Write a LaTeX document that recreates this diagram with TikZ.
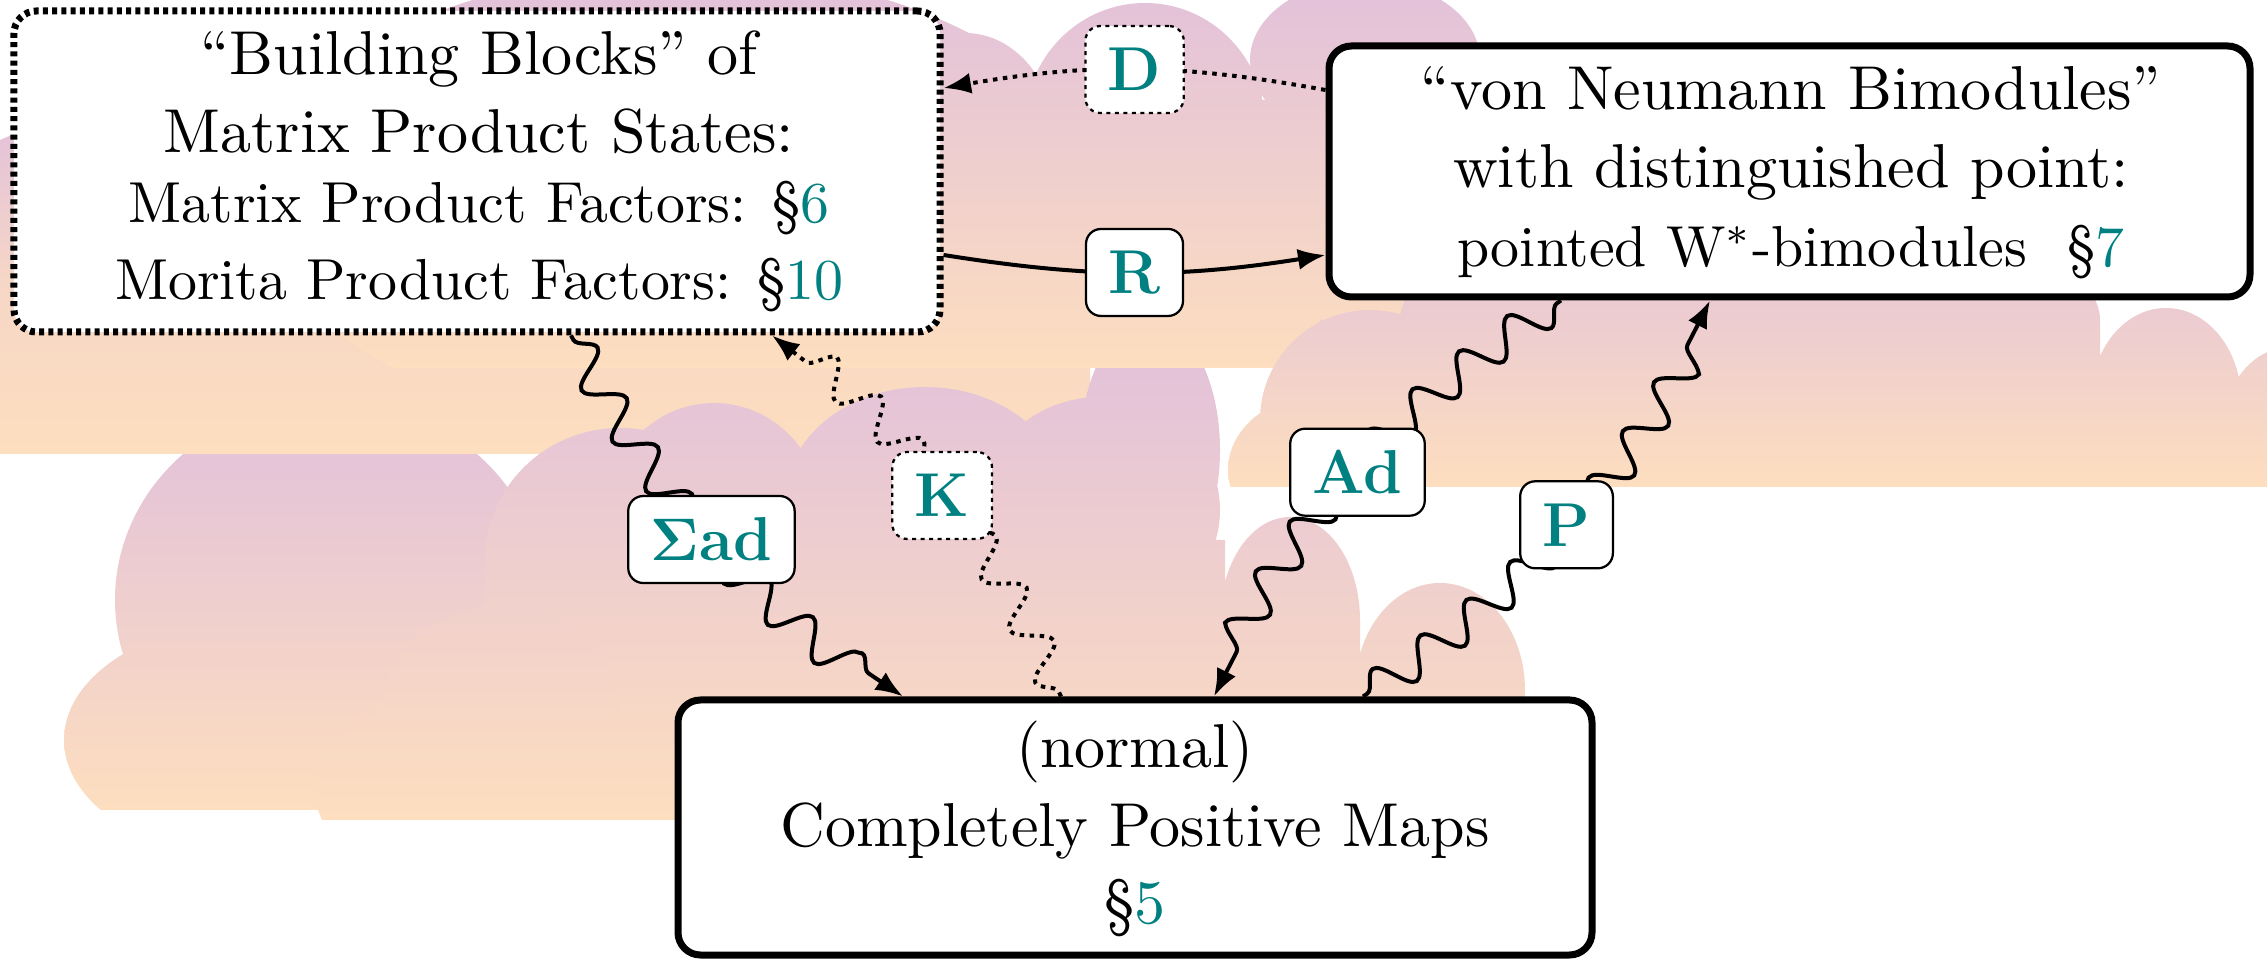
\documentclass[tikz,border=0pt]{standalone}
\usepackage{fontspec}
\usetikzlibrary{decorations.pathmorphing,arrows.meta,calc}
\definecolor{cloudtop}{RGB}{225,192,220}
\definecolor{cloudbot}{RGB}{253,222,190}
\newcommand\bsig{{\fontencoding{OT1}\fontfamily{cmr}\fontseries{bx}\fontshape{n}\selectfont\char6}}
\begin{document}
\begin{tikzpicture}[x=0.2pt,y=0.2pt,
  box/.style={draw, fill=white, rounded corners=4.5pt, line width=1.4pt, inner sep=0pt},
  dotbox/.style={dash pattern=on 1pt off 0.85pt},
  big/.style={font=\fontsize{10}{12}\selectfont, inner sep=0pt, scale=1.24, transform shape},
  small/.style={font=\fontsize{10}{12}\selectfont, inner sep=0pt, scale=1.157, transform shape},
  lbl/.style={draw, solid, fill=white, rounded corners=3pt, line width=0.45pt,
    minimum height=17.4pt, minimum width=18pt, inner xsep=4.5pt, inner ysep=0pt,
    font=\fontsize{12.4}{15}\selectfont\bfseries, text=teal},
  dotlbl/.style={dash pattern=on 0.8pt off 0.9pt},
  conn/.style={line width=0.8pt},
  wig/.style={line width=0.8pt, decorate,
    decoration={snake, amplitude=3.5pt, segment length=11.8pt, pre length=1pt, post length=5pt}},
  dotline/.style={dash pattern=on 0.9pt off 1.1pt},
  arrowend/.style={-{Latex[length=5.5pt,width=4.2pt]}}
]
\useasboundingbox (0,0) rectangle (2267,960);

% ---------- clouds ----------
% lower-left cloud
\begin{scope}
\clip (0,150) rectangle (2267,960);
\clip (330,360) ellipse [x radius=215, y radius=200]
      (260,220) ellipse [x radius=196, y radius=120]
      (130,150) -- (700,150) -- (700,360) -- (130,360) -- cycle;
\shade[top color=cloudtop, bottom color=cloudbot] (0,150) rectangle (2267,560);
\end{scope}
% left band
\begin{scope}
\clip (0,506) rectangle (2267,960);
\clip (150,700) ellipse [x radius=250, y radius=150]
      (0,506) -- (1090,506) -- (1090,710) -- (0,710) -- cycle;
\shade[top color=cloudtop, bottom color=cloudbot, middle color=cloudbot!75!cloudtop] (0,506) rectangle (2267,850);
\end{scope}
% middle purple cloud
\begin{scope}
\clip (0,140) rectangle (2267,960);
\clip (620,400) ellipse [x radius=135, y radius=132]
      (714,440) ellipse [x radius=110, y radius=117]
      (925,460) ellipse [x radius=140, y radius=113]
      (1100,450) ellipse [x radius=120, y radius=113]
      (1150,510) ellipse [x radius=70, y radius=130]
      (1290,340) ellipse [x radius=70, y radius=103]
      (1440,270) ellipse [x radius=85, y radius=107]
      (485,140) -- (1225,140) -- (1225,420) -- (485,420) -- cycle
      (1220,140) -- (1360,140) -- (1360,340) -- (1220,340) -- cycle
      (1355,140) -- (1525,140) -- (1525,270) -- (1355,270) -- cycle;
\shade[top color=cloudtop, bottom color=cloudbot] (0,140) rectangle (2267,640);
\end{scope}
% lower middle cloud
\begin{scope}
\clip (0,140) rectangle (2267,960);
\clip (440,170) ellipse [x radius=125, y radius=90]
      (500,240) ellipse [x radius=120, y radius=115]
      (380,140) -- (680,140) -- (680,240) -- (380,240) -- cycle;
\shade[top color=cloudbot!55!cloudtop, bottom color=cloudbot] (0,140) rectangle (2267,355);
\end{scope}
% top band
\begin{scope}
\clip (0,592) rectangle (2267,960);
\clip (680,760) ellipse [x radius=420, y radius=230]
      (965,820) ellipse [x radius=90, y radius=107]
      (1145,835) ellipse [x radius=120, y radius=122]
      (1365,900) ellipse [x radius=115, y radius=80]
      (420,592) -- (1430,592) -- (1430,860) -- (420,860) -- cycle;
\shade[top color=cloudtop, bottom color=cloudbot] (0,592) rectangle (2267,990);
\end{scope}
% right band
\begin{scope}
\clip (0,473) rectangle (2267,960);
\clip (1320,490) ellipse [x radius=92, y radius=75]
      (1370,540) ellipse [x radius=110, y radius=110]
      (1750,640) ellipse [x radius=350, y radius=120]
      (2166,560) ellipse [x radius=75, y radius=92]
      (2290,520) ellipse [x radius=70, y radius=93]
      (1320,473) -- (2100,473) -- (2100,640) -- (1320,640) -- cycle
      (2100,473) -- (2267,473) -- (2267,560) -- (2100,560) -- cycle;
\shade[top color=cloudtop, bottom color=cloudbot] (0,473) rectangle (2267,760);
\end{scope}

% ---------- boxes ----------
\node[box, dotbox, minimum width=185.2pt, minimum height=64.2pt] (LB) at (477,788.5) {};
\node[box, minimum width=184.2pt, minimum height=50.2pt] (RB) at (1789.5,788.5) {};
\node[box, minimum width=182.8pt, minimum height=51pt] (BB) at (1135,132.5) {};

\node[big, anchor=base] (LBa) at (479,885) {``Building Blocks'' of};
\node[big, anchor=base] (LBb) at (479,807) {Matrix Product States:};
\node[small, anchor=base] (LBc) at (479,737) {Matrix Product Factors: \S{\color{teal}6}};
\node[small, anchor=base] (LBd) at (479,660) {Morita Product Factors: \S{\color{teal}10}};
\node[big, anchor=base] (RBa) at (1791,850) {``von Neumann Bimodules''};
\node[big, anchor=base] (RBb) at (1791,772) {with distinguished point:};
\node[small, anchor=base] (RBc) at (1791,693) {pointed W$^*$-bimodules\hspace{7pt}\S{\color{teal}7}};
\node[big, anchor=base] (BBa) at (1135,192) {(normal)};
\node[big, anchor=base] (BBb) at (1135,113) {Completely Positive Maps};
\node[big, anchor=base] (BBc) at (1135,37) {\S{\color{teal}5}};

% ---------- connectors ----------
\draw[wig, arrowend] ([xshift=18.8pt]LB.south) to[bend right=14] ([xshift=-46.4pt]BB.north);
\draw[wig, dotline, arrowend] ([xshift=-14.8pt]BB.north) to[bend right=14] ([xshift=59pt]LB.south);
\draw[wig, arrowend] ([xshift=-45.7pt]RB.south) to[bend right=15] ([xshift=15.8pt]BB.north);
\draw[wig, arrowend] ([xshift=45.6pt]BB.north) to[bend right=15] ([xshift=-15.9pt]RB.south);
\draw[conn, arrowend] ([yshift=-16.7pt]LB.east) to[bend right=9] ([yshift=-16.7pt]RB.west);
\draw[conn, dotline, arrowend] ([yshift=16.3pt]RB.west) to[bend right=10] ([yshift=16.7pt]LB.east);

% ---------- labels ----------
\path ([xshift=18.8pt]LB.south) to[bend right=14] node[lbl] (Sad) {\bsig ad} ([xshift=-46.4pt]BB.north);
\path ([xshift=-14.8pt]BB.north) to[bend right=14] node[lbl, dotlbl] (K) {K} ([xshift=59pt]LB.south);
\path ([xshift=-45.7pt]RB.south) to[bend right=15] node[lbl] (Ad) {Ad} ([xshift=15.8pt]BB.north);
\path ([xshift=45.6pt]BB.north) to[bend right=15] node[lbl] (P) {P} ([xshift=-15.9pt]RB.south);
\path ([yshift=-16.7pt]LB.east) to[bend right=9] node[lbl] (R) {R} ([yshift=-16.7pt]RB.west);
\path ([yshift=16.3pt]RB.west) to[bend right=10] node[lbl, dotlbl] (D) {D} ([yshift=16.7pt]LB.east);
\end{tikzpicture}
\end{document}
